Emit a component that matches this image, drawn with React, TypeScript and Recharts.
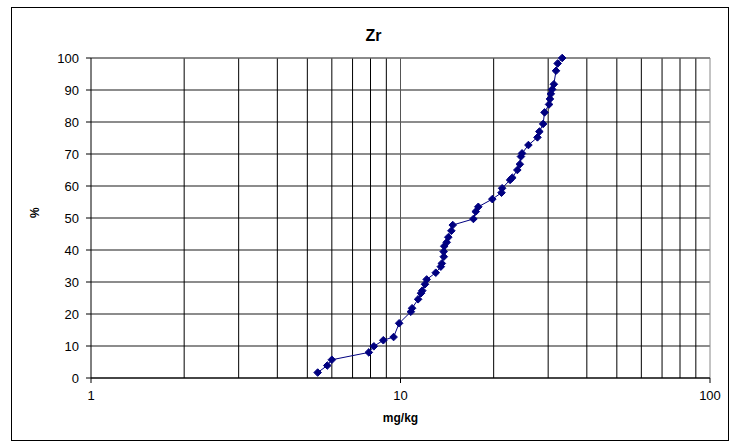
import { CartesianGrid, Line, LineChart, ReferenceLine, XAxis, YAxis } from "recharts";

// Zr concentration (mg/kg) vs cumulative percentage
const zrValues = [
  5.4, 5.8, 6.0, 7.9, 8.2, 8.8, 9.5, 9.9, 10.8, 10.9, 11.4, 11.65, 11.76, 12.0, 12.15,
  13.0, 13.5, 13.6, 13.8, 13.79, 13.85, 14.1, 14.27, 14.6, 14.75, 17.2, 17.5, 17.84,
  19.8, 21.2, 21.3, 22.6, 22.97, 23.85, 24.3, 24.5, 24.7, 25.9, 27.7, 28.1, 28.9, 29.2,
  30.2, 30.4, 30.6, 30.9, 31.3, 31.8, 32.2, 33.3
];
const cumPercent = [
  1.7, 3.9, 5.7, 8.0, 9.9, 11.8, 12.8, 17.1, 20.7, 21.8, 24.6, 26.5, 27.3, 29.3, 30.8,
  32.9, 34.8, 35.8, 37.9, 39.5, 41.2, 42.4, 44.0, 46.0, 47.8, 49.7, 52.0, 53.5,
  55.9, 57.9, 59.3, 61.9, 62.6, 65.0, 66.8, 69.2, 70.2, 72.8, 75.2, 77.0, 79.4, 83.0,
  85.5, 87.2, 88.8, 90.2, 91.8, 96.0, 98.3, 100
];

const xTicks = [1, 10, 100];
const yTicks = [0, 10, 20, 30, 40, 50, 60, 70, 80, 90, 100];
const minorGrid = [2, 3, 4, 5, 6, 7, 8, 9, 10, 20, 30, 40, 50, 60, 70, 80, 90];

const data = zrValues.map((x, i) => ({ x, y: cumPercent[i] }));

const NAVY = "#000080";
const FONT = "'Liberation Sans', Arial, sans-serif";

function Diamond(props: any) {
  const { cx, cy } = props;
  if (cx == null || cy == null) return null;
  const r = 3.8;
  return (
    <polygon
      points={`${cx},${cy - r} ${cx + r},${cy} ${cx},${cy + r} ${cx - r},${cy}`}
      fill={NAVY}
      stroke={NAVY}
    />
  );
}

export default function App() {
  return (
    <div style={{ position: "relative", width: 743, height: 447, fontFamily: FONT, background: "#fff" }}>
      <style>{"body{margin:0}"}</style>
      <div
        style={{
          position: "absolute",
          left: 11,
          top: 7,
          width: 716,
          height: 432,
          border: "1px solid #000"
        }}
      />
      <div
        style={{
          position: "absolute",
          left: 2,
          width: 743,
          top: 27,
          textAlign: "center",
          fontWeight: "bold",
          fontSize: 16
        }}
      >
        Zr
      </div>
      <div style={{ position: "absolute", left: 0, top: 0 }}>
        <LineChart
          width={743}
          height={447}
          data={data}
          margin={{ top: 58, right: 33, left: 31, bottom: 9 }}
        >
          <CartesianGrid vertical={false} stroke="#000" strokeOpacity={0.9} />
          {minorGrid.map((v) => (
            <ReferenceLine key={v} x={v} stroke={v === 10 ? "#555" : "#000"} strokeWidth={1} />
          ))}
          <ReferenceLine y={100} stroke="#888" />
          <ReferenceLine x={100} stroke="#888" />
          <XAxis
            dataKey="x"
            type="number"
            scale="log"
            domain={[1, 100]}
            ticks={xTicks}
            allowDataOverflow
            height={60}
            tickSize={5}
            tickMargin={8}
            stroke="#000"
            tick={{ fill: "#000", fontSize: 13, fontFamily: FONT }}
            label={{
              value: "mg/kg",
              position: "insideBottom",
              offset: 16,
              style: { fontWeight: "bold", fontSize: 12, fill: "#000", fontFamily: FONT }
            }}
          />
          <YAxis
            type="number"
            domain={[0, 100]}
            ticks={yTicks}
            width={60}
            tickSize={5}
            tickMargin={7}
            stroke="#000"
            tick={{ fill: "#000", fontSize: 13, fontFamily: FONT }}
            label={{
              value: "%",
              angle: -90,
              position: "insideLeft",
              offset: 4,
              style: { fontWeight: "bold", fontSize: 12, fill: "#000", fontFamily: FONT }
            }}
          />
          <Line
            type="linear"
            dataKey="y"
            stroke={NAVY}
            strokeWidth={1}
            dot={<Diamond />}
            activeDot={false}
            isAnimationActive={false}
          />
        </LineChart>
      </div>
    </div>
  );
}
